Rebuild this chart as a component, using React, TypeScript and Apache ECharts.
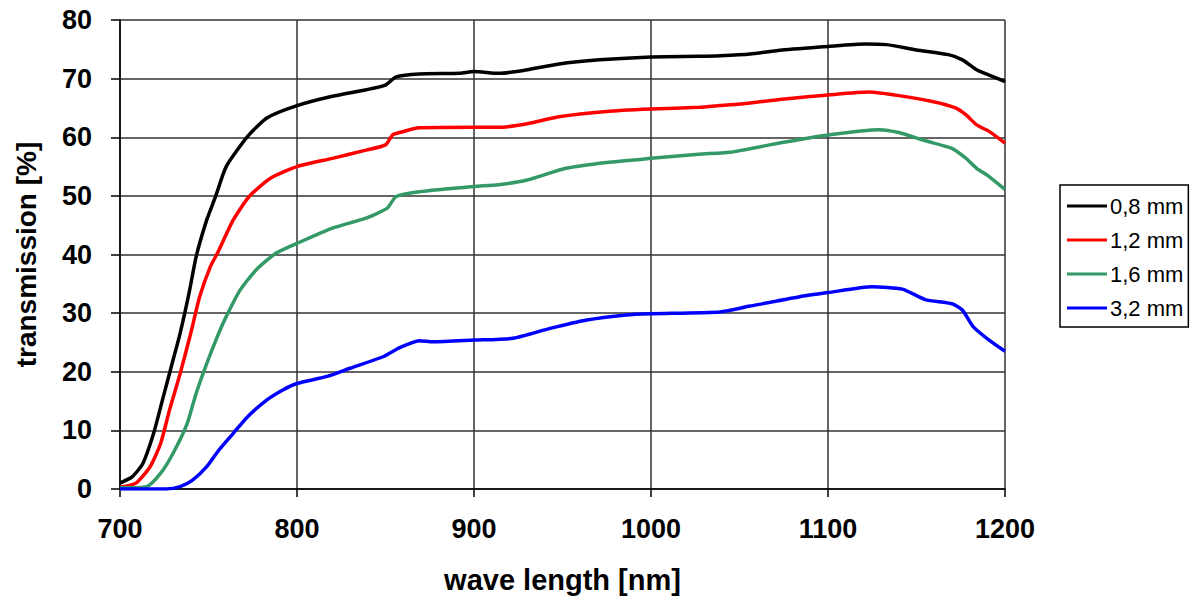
import React, { useEffect, useRef } from "react";
import * as echarts from "echarts";

const seriesNames = ["0,8 mm", "1,2 mm", "1,6 mm", "3,2 mm"];
const seriesColors = ["#000000", "#ff0000", "#339966", "#0000ff"];

const wl08 = [700, 707, 713, 719, 724, 729, 734, 739, 743, 749, 754, 760, 772, 783, 800, 820, 839, 850, 856, 869, 892, 900, 914, 928, 948, 971, 1000, 1027, 1039, 1056, 1074, 1100, 1121, 1133, 1150, 1168, 1176, 1184, 1191, 1200];
const val08 = [1, 2.1, 4.4, 9.5, 15.2, 20.9, 26.6, 33.4, 39.6, 45.9, 49.9, 55, 60.1, 63.3, 65.4, 67, 68.1, 68.9, 70.3, 70.8, 70.9, 71.2, 70.9, 71.4, 72.5, 73.2, 73.7, 73.8, 73.9, 74.2, 74.9, 75.5, 75.9, 75.8, 74.9, 74.1, 73.2, 71.5, 70.6, 69.5];

const wl12 = [700, 709, 717, 723, 728, 734, 740, 745, 751, 755, 764, 773, 785, 800, 820, 839, 850, 854, 858, 869, 900, 914, 930, 948, 975, 1000, 1027, 1039, 1055, 1074, 1100, 1123, 1140, 1159, 1172, 1178, 1184, 1191, 1200];
const val12 = [0.3, 1, 3.8, 7.8, 13.5, 19.7, 26.6, 32.8, 37.9, 40.2, 45.9, 49.9, 53, 55, 56.4, 57.8, 58.7, 60.4, 60.8, 61.6, 61.7, 61.7, 62.3, 63.5, 64.4, 64.8, 65.1, 65.4, 65.8, 66.5, 67.2, 67.7, 67.1, 66.1, 65, 63.8, 62.1, 61, 59];

const wl16 = [700, 715, 723, 730, 738, 743, 749, 755, 760, 768, 777, 788, 800, 820, 839, 851, 856, 869, 900, 914, 930, 952, 975, 1000, 1027, 1046, 1074, 1100, 1129, 1140, 1155, 1170, 1178, 1184, 1191, 1200];
const val16 = [0.2, 0.4, 2.7, 6.1, 11.2, 16.3, 21.4, 26, 29.4, 34, 37.4, 40.2, 41.9, 44.5, 46.2, 47.9, 49.9, 50.7, 51.6, 51.9, 52.7, 54.7, 55.7, 56.4, 57.1, 57.5, 59.1, 60.4, 61.3, 60.8, 59.4, 58.1, 56.4, 54.7, 53.3, 51.1];

const wl32 = [700, 726, 734, 741, 749, 756, 764, 772, 783, 792, 800, 817, 830, 849, 858, 869, 877, 900, 922, 943, 963, 986, 1000, 1039, 1056, 1084, 1100, 1125, 1142, 1155, 1170, 1176, 1182, 1191, 1200];
const val32 = [0, 0, 0.4, 1.5, 3.8, 6.7, 9.5, 12.3, 15.2, 16.9, 18, 19.2, 20.6, 22.6, 24.1, 25.3, 25.1, 25.4, 25.7, 27.4, 28.8, 29.7, 29.9, 30.2, 31.2, 32.8, 33.5, 34.5, 34.1, 32.3, 31.6, 30.5, 27.7, 25.4, 23.5];

const wavelengths = [wl08, wl12, wl16, wl32];
const values = [val08, val12, val16, val32];

const xAxisTitle = "wave length [nm]";
const yAxisTitle = "transmission [%]";

const FONT = "'Liberation Sans', Arial, sans-serif";

export default function App() {
  const ref = useRef<HTMLDivElement>(null);
  useEffect(() => {
    if (!ref.current) return;
    const chart = echarts.init(ref.current, null, { renderer: "svg" });
    const series = seriesNames.map((name, i) => ({
      name,
      type: "line",
      data: wavelengths[i].map((w, j) => [w, values[i][j]]),
      showSymbol: false,
      symbol: "none",
      smooth: 0.2,
      lineStyle: { color: seriesColors[i], width: 3.5 },
      itemStyle: { color: seriesColors[i] },
    }));
    chart.setOption({
      animation: false,
      backgroundColor: "#ffffff",
      grid: {
        left: 120,
        right: 193,
        top: 20,
        bottom: 112,
        containLabel: false,
        outerBoundsMode: "none",
      },
      xAxis: {
        type: "value",
        min: 700,
        max: 1200,
        interval: 100,
        name: xAxisTitle,
        nameLocation: "middle",
        nameGap: 76,
        nameTextStyle: { fontFamily: FONT, fontWeight: "bold", fontSize: 29, color: "#000" },
        axisLine: { show: true, onZero: false, lineStyle: { color: "#000", width: 1.5 } },
        axisTick: { show: true, length: 8, inside: false, lineStyle: { color: "#000", width: 1.5 } },
        axisLabel: {
          margin: 26,
          fontFamily: FONT,
          fontWeight: "bold",
          fontSize: 27,
          color: "#000",
          formatter: (v: number) => String(v),
        },
        splitLine: { show: true, lineStyle: { color: "#333", width: 1.5 } },
      },
      yAxis: {
        type: "value",
        min: 0,
        max: 80,
        interval: 10,
        name: yAxisTitle,
        nameLocation: "middle",
        nameGap: 80,
        nameRotate: 90,
        nameTextStyle: { fontFamily: FONT, fontWeight: "bold", fontSize: 28, color: "#000" },
        axisLine: { show: true, lineStyle: { color: "#000", width: 1.5 } },
        axisTick: { show: true, length: 9, inside: false, lineStyle: { color: "#000", width: 1.5 } },
        axisLabel: { margin: 28, fontFamily: FONT, fontWeight: "bold", fontSize: 27, color: "#000" },
        splitLine: { show: true, lineStyle: { color: "#333", width: 1.5 } },
      },
      legend: {
        orient: "vertical",
        left: 1060,
        top: 185,
        padding: [10, 5, 8, 7],
        itemWidth: 40,
        itemHeight: 3,
        itemGap: 12,
        icon: "rect",
        borderColor: "#000",
        borderWidth: 1.5,
        backgroundColor: "#fff",
        textStyle: { fontFamily: FONT, fontSize: 22, color: "#000", lineHeight: 22, padding: [0, 0, 0, -2] },
        data: seriesNames,
      },
      series,
    });
    return () => chart.dispose();
  }, []);
  return (
    <div
      ref={ref}
      style={{ position: "fixed", left: 0, top: 0, width: 1198, height: 601, background: "#fff" }}
    />
  );
}
